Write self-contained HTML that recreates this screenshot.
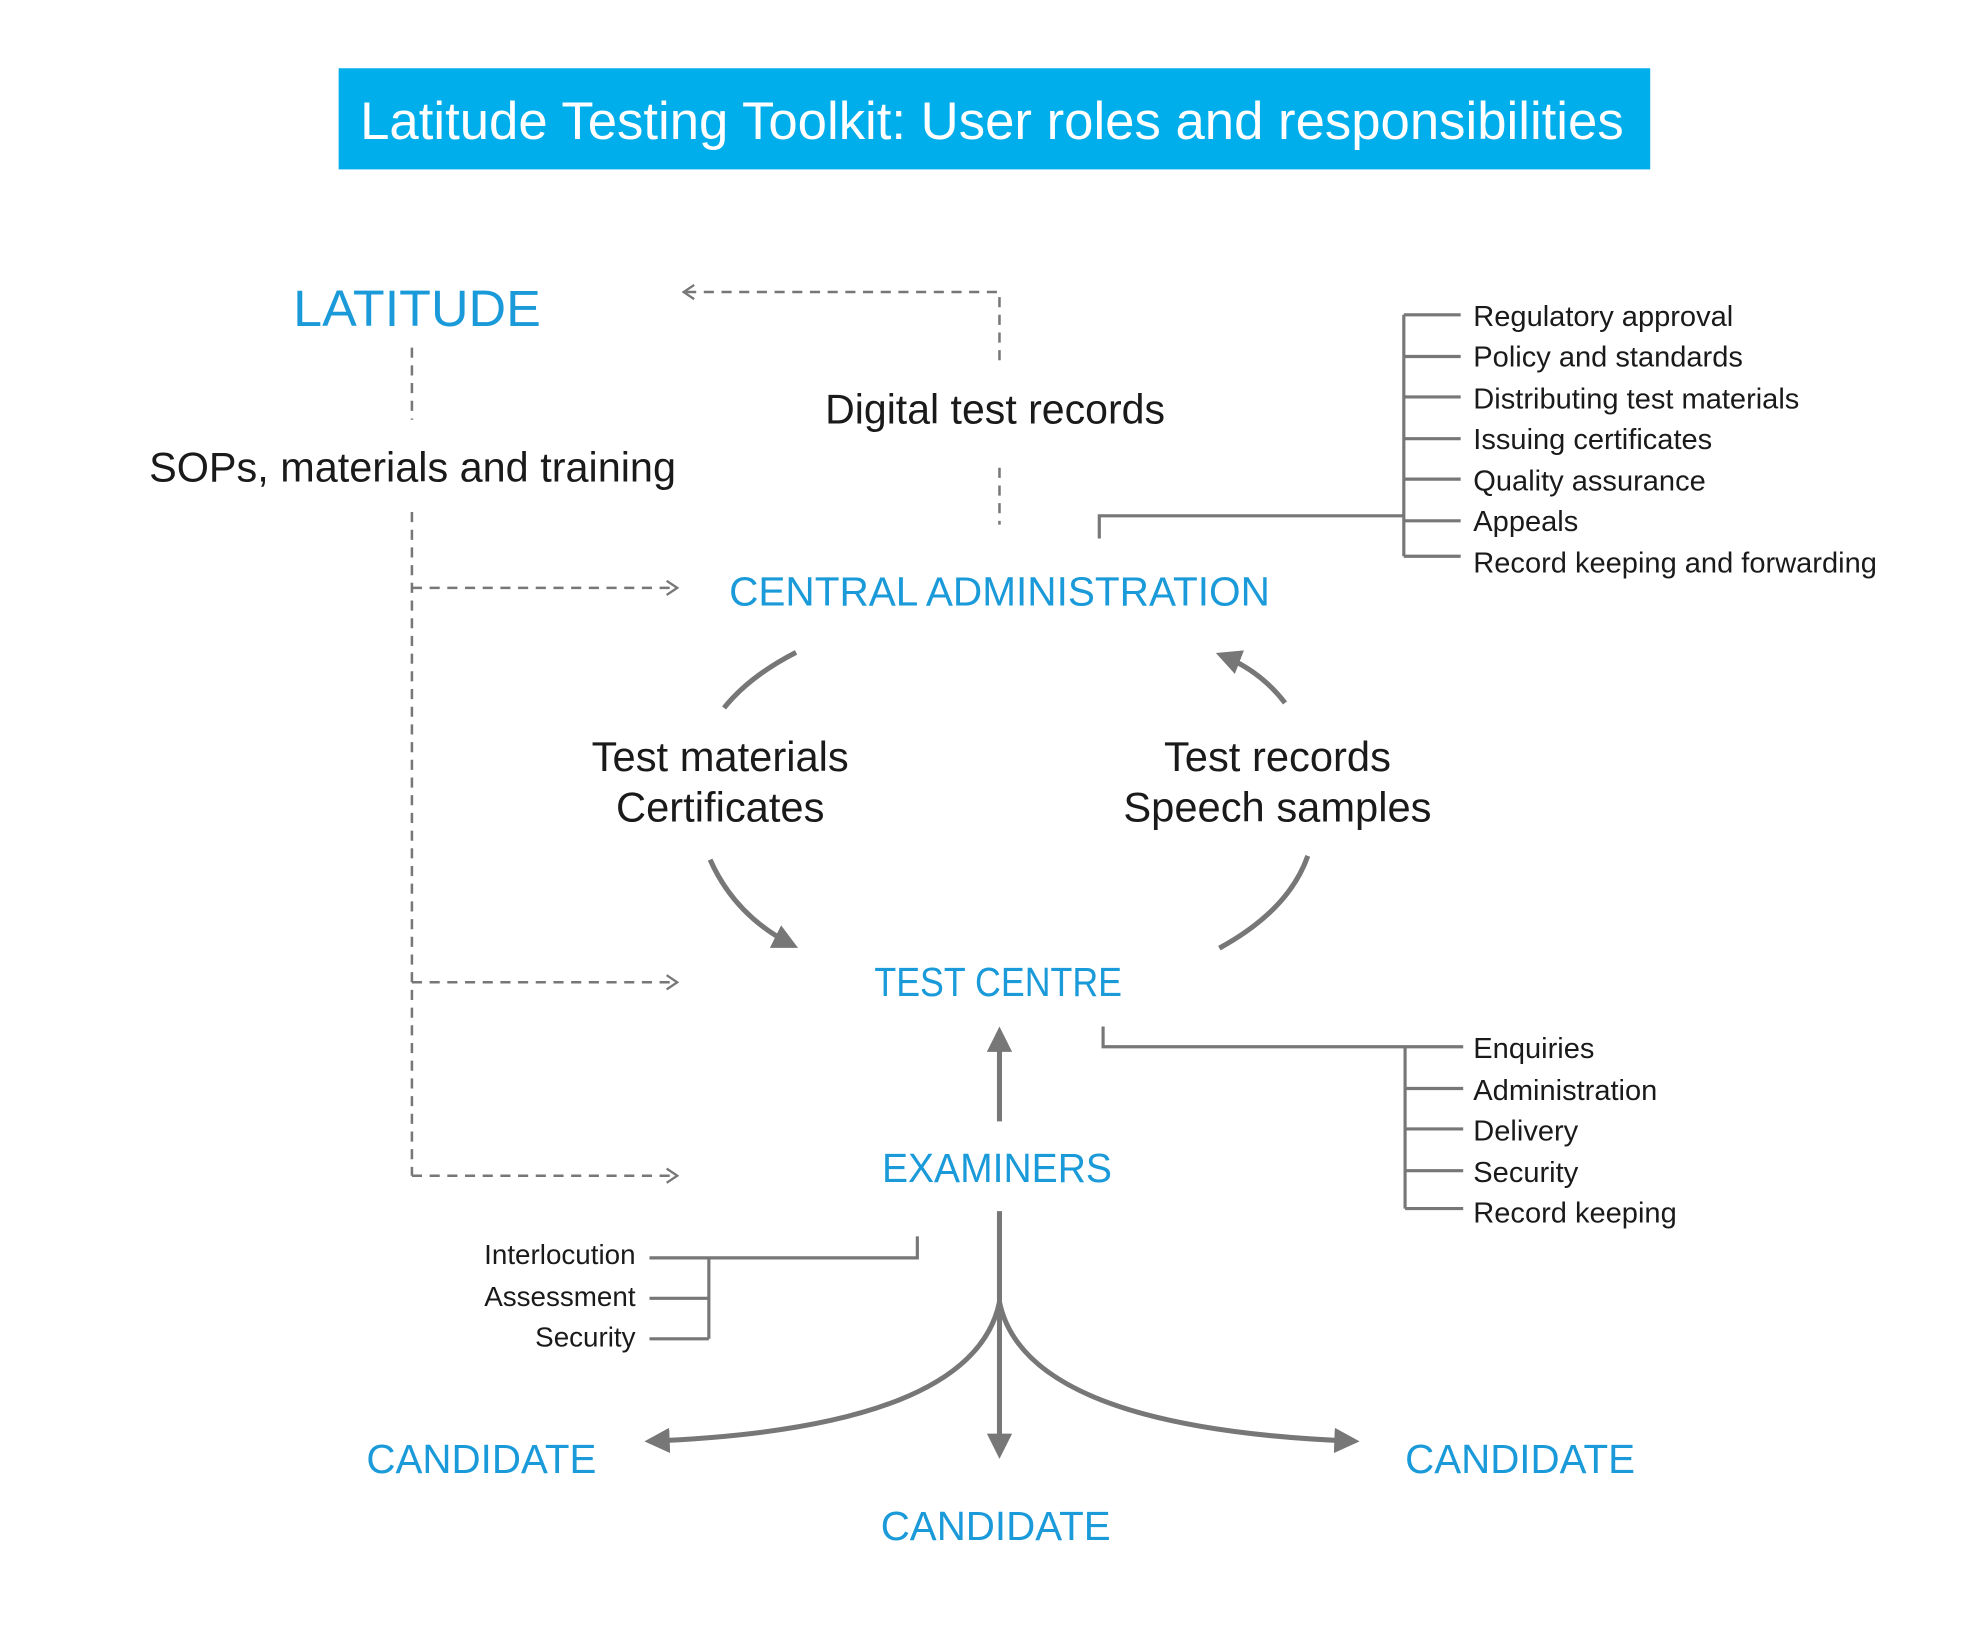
<!DOCTYPE html>
<html><head><meta charset="utf-8"><style>
html,body{margin:0;padding:0;background:#fff;}
svg{display:block;}
text{font-family:"Liberation Sans",sans-serif;}
.b{fill:#1a9ad9;}
.k{fill:#1a1a1a;}
</style></head><body>
<svg width="1980" height="1646" viewBox="0 0 1567 1302" preserveAspectRatio="none" xmlns="http://www.w3.org/2000/svg">
<defs>
<marker id="ah" viewBox="0 0 10 10" refX="8" refY="5" markerWidth="5" markerHeight="5" orient="auto"><path d="M0,0 L10,5 L0,10 z" fill="#777"/></marker>
<marker id="op" viewBox="0 0 10 10" refX="9" refY="5" markerWidth="14" markerHeight="14" orient="auto" markerUnits="userSpaceOnUse"><path d="M3,1 L9,5 L3,9" fill="none" stroke="#777" stroke-width="1.3"/></marker>
</defs>
<rect x="268" y="54" width="1038" height="80" fill="#00aeeb"/>
<text x="785" y="110" text-anchor="middle" fill="#fff" font-size="42" textLength="1000" lengthAdjust="spacingAndGlyphs">Latitude Testing Toolkit: User roles and responsibilities</text>

<text class="b" x="232" y="258" font-size="40" textLength="196" lengthAdjust="spacingAndGlyphs">LATITUDE</text>
<g stroke="#777" stroke-width="2" stroke-dasharray="8,6" fill="none">
<line x1="326" y1="275" x2="326" y2="332"/>
<line x1="326" y1="405" x2="326" y2="930"/>
<line x1="326" y1="465" x2="536" y2="465" marker-end="url(#op)"/>
<line x1="326" y1="777" x2="536" y2="777" marker-end="url(#op)"/>
<line x1="326" y1="930" x2="536" y2="930" marker-end="url(#op)"/>
<polyline points="791,285 791,231 541,231" marker-end="url(#op)"/>
<line x1="791" y1="370" x2="791" y2="415"/>
</g>
<text class="k" x="118" y="381" font-size="33" textLength="417" lengthAdjust="spacingAndGlyphs">SOPs, materials and training</text>
<text class="k" x="653" y="335" font-size="33" textLength="269" lengthAdjust="spacingAndGlyphs">Digital test records</text>

<text class="b" x="577" y="479" font-size="32" textLength="428" lengthAdjust="spacingAndGlyphs">CENTRAL ADMINISTRATION</text>
<g stroke="#777" stroke-width="2.5" fill="none">
<polyline points="870,426 870,408 1111,408"/>
<line x1="1111" y1="249" x2="1111" y2="440"/>
<line x1="1111" y1="249" x2="1156" y2="249"/>
<line x1="1111" y1="282" x2="1156" y2="282"/>
<line x1="1111" y1="314" x2="1156" y2="314"/>
<line x1="1111" y1="347" x2="1156" y2="347"/>
<line x1="1111" y1="379" x2="1156" y2="379"/>
<line x1="1111" y1="412" x2="1156" y2="412"/>
<line x1="1111" y1="440" x2="1156" y2="440"/>
</g>
<g class="k" font-size="23">
<text x="1166" y="258">Regulatory approval</text>
<text x="1166" y="290">Policy and standards</text>
<text x="1166" y="323">Distributing test materials</text>
<text x="1166" y="355">Issuing certificates</text>
<text x="1166" y="388">Quality assurance</text>
<text x="1166" y="420">Appeals</text>
<text x="1166" y="453">Record keeping and forwarding</text>
</g>

<g stroke="#777" stroke-width="4" fill="none">
<path d="M630,516 Q593,535 573,560"/>
<path d="M562,680 Q582,725 628,748" marker-end="url(#ah)"/>
<path d="M965,750 Q1020,720 1035,677"/>
<path d="M1017,556 Q997,530 966,518" marker-end="url(#ah)"/>
</g>
<g class="k" font-size="33" text-anchor="middle">
<text x="570" y="610">Test materials</text>
<text x="570" y="650">Certificates</text>
<text x="1011" y="610">Test records</text>
<text x="1011" y="650">Speech samples</text>
</g>

<text class="b" x="692" y="788" font-size="32" textLength="196" lengthAdjust="spacingAndGlyphs">TEST CENTRE</text>
<g stroke="#777" stroke-width="4" fill="none">
<line x1="791" y1="887" x2="791" y2="816" marker-end="url(#ah)"/>
</g>
<g stroke="#777" stroke-width="2.5" fill="none">
<polyline points="873,812 873,828 1158,828"/>
<line x1="1112" y1="828" x2="1112" y2="956"/>
<line x1="1112" y1="861" x2="1158" y2="861"/>
<line x1="1112" y1="893" x2="1158" y2="893"/>
<line x1="1112" y1="926" x2="1158" y2="926"/>
<line x1="1112" y1="956" x2="1158" y2="956"/>
</g>
<g class="k" font-size="23">
<text x="1166" y="837">Enquiries</text>
<text x="1166" y="870">Administration</text>
<text x="1166" y="902">Delivery</text>
<text x="1166" y="935">Security</text>
<text x="1166" y="967">Record keeping</text>
</g>

<text class="b" x="698" y="935" font-size="32" textLength="182" lengthAdjust="spacingAndGlyphs">EXAMINERS</text>
<g stroke="#777" stroke-width="2.5" fill="none">
<polyline points="726,978 726,995 514,995"/>
<line x1="561" y1="995" x2="561" y2="1059"/>
<line x1="514" y1="1027" x2="561" y2="1027"/>
<line x1="514" y1="1059" x2="561" y2="1059"/>
</g>
<g class="k" font-size="22" text-anchor="end">
<text x="503" y="1000">Interlocution</text>
<text x="503" y="1033">Assessment</text>
<text x="503" y="1065">Security</text>
</g>
<g stroke="#777" stroke-width="4" fill="none">
<line x1="791" y1="958" x2="791" y2="1150" marker-end="url(#ah)"/>
<path d="M791,1030 Q770,1130 514,1140" marker-end="url(#ah)"/>
<path d="M791,1030 Q812,1130 1072,1140" marker-end="url(#ah)"/>
</g>
<text class="b" x="290" y="1165" font-size="32" textLength="182" lengthAdjust="spacingAndGlyphs">CANDIDATE</text>
<text class="b" x="1112" y="1165" font-size="32" textLength="182" lengthAdjust="spacingAndGlyphs">CANDIDATE</text>
<text class="b" x="697" y="1218" font-size="32" textLength="182" lengthAdjust="spacingAndGlyphs">CANDIDATE</text>
</svg>
</body></html>
